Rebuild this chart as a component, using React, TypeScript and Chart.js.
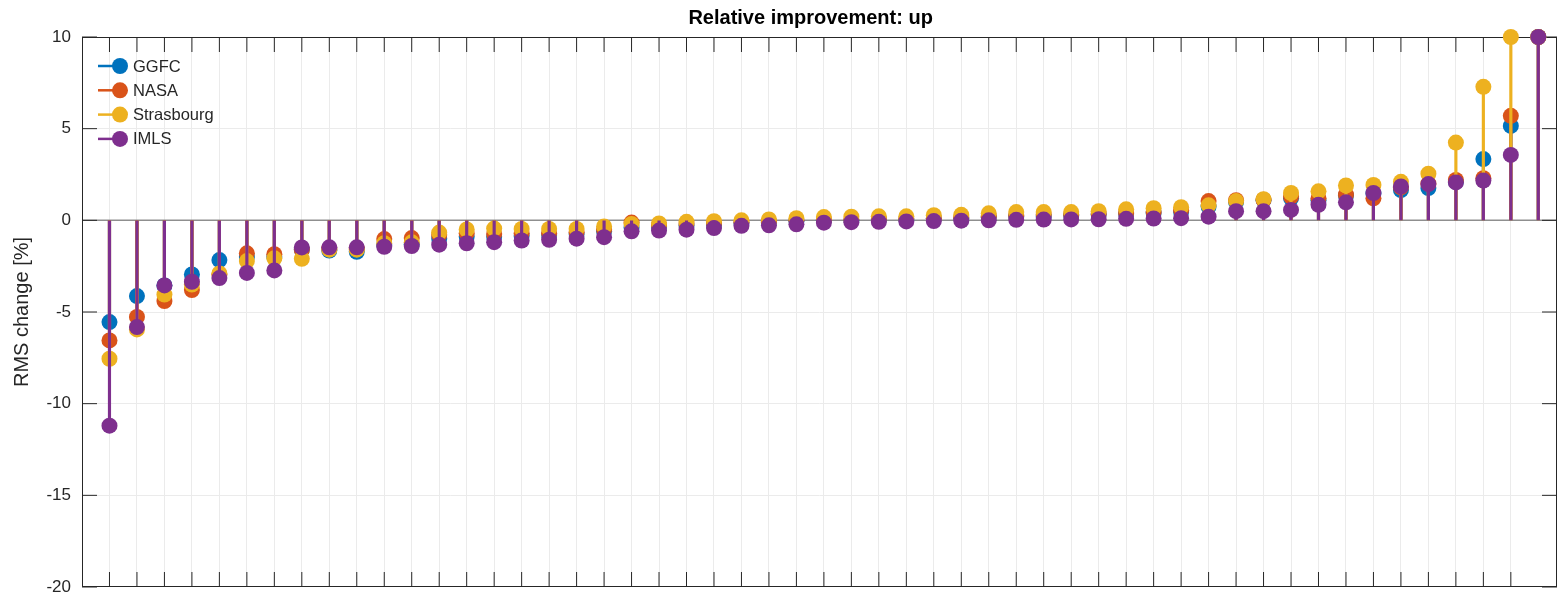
import React, { useEffect, useRef } from "react";
import { Chart, registerables } from "chart.js";

Chart.register(...registerables);

// ---- data ----
const seriesNames = ["GGFC", "NASA", "Strasbourg", "IMLS"];
const seriesColors = ["#0072BD", "#D95319", "#EDB120", "#7E2F8E"];

const GGFC = [
  -5.55, -4.13, -3.55, -2.95, -2.17, -2.0, -2.0, -1.6, -1.65, -1.72, -1.35, -1.3, -1.0,
  -0.9, -0.9, -0.85, -0.8, -0.75, -0.6, -0.4, -0.35, -0.3, -0.25, -0.15, -0.1, -0.05, 0.0,
  0.0, 0.02, 0.05, 0.08, 0.1, 0.15, 0.2, 0.2, 0.25, 0.3, 0.35, 0.4, 0.45,
  0.75, 1.0, 1.1, 1.2, 1.1, 1.35, 1.45, 1.65, 1.76, 2.1, 3.34, 5.15, 10,
];
const NASA = [
  -6.55, -5.27, -4.4, -3.8, -2.95, -1.8, -1.85, -1.6, -1.55, -1.55, -1.02, -0.97, -0.8,
  -0.7, -0.75, -0.7, -0.7, -0.65, -0.5, -0.12, -0.25, -0.2, -0.15, -0.1, -0.05, 0.0, 0.05,
  0.05, 0.07, 0.1, 0.12, 0.15, 0.2, 0.25, 0.3, 0.3, 0.35, 0.4, 0.45, 0.55,
  1.05, 1.1, 1.12, 1.3, 1.2, 1.4, 1.2, 1.8, 2.0, 2.2, 2.3, 5.7, 10,
];
const Strasbourg = [
  -7.55, -5.95, -4.05, -3.5, -2.9, -2.22, -2.07, -2.1, -1.6, -1.6, -1.25, -1.2, -0.67,
  -0.5, -0.45, -0.47, -0.47, -0.47, -0.33, -0.2, -0.17, -0.08, -0.05, 0.0, 0.05, 0.12, 0.18,
  0.2, 0.22, 0.22, 0.28, 0.3, 0.38, 0.45, 0.45, 0.45, 0.5, 0.6, 0.66, 0.72,
  0.82, 1.05, 1.15, 1.49, 1.58, 1.9, 1.93, 2.1, 2.54, 4.24, 7.28, 10, 10,
];
const IMLS = [
  -11.2, -5.82, -3.55, -3.35, -3.15, -2.87, -2.73, -1.48, -1.47, -1.47, -1.44, -1.4, -1.33,
  -1.25, -1.19, -1.1, -1.06, -1.0, -0.92, -0.6, -0.56, -0.51, -0.42, -0.3, -0.27, -0.22, -0.13,
  -0.1, -0.08, -0.06, -0.04, -0.02, 0.0, 0.03, 0.04, 0.05, 0.06, 0.08, 0.1, 0.12,
  0.2, 0.5, 0.5, 0.57, 0.85, 0.98, 1.49, 1.85, 1.98, 2.07, 2.17, 3.57, 10,
];
const seriesValues = [GGFC, NASA, Strasbourg, IMLS];
const stationIndex = GGFC.map((_, i) => i + 1);

const yTickStep = 5;
const yMin = -20;
const yMax = 10;
const xMin = 0;
const xMax = 53.68;

const titleText = "Relative improvement: up";
const yTitle = "RMS change [%]";

const W = 1558;
const H = 597;
const FONT = "'Liberation Sans', Arial, Helvetica, sans-serif";
const AXIS_COLOR = "#262626";
const GRID_COLOR = "#ebebeb";
const TICK_LEN = 15;

const axesPlugin = {
  id: "matlabAxes",
  beforeDatasetsDraw(chart: any) {
    const { ctx, chartArea } = chart;
    const { left, right, top, bottom } = chartArea;
    const xs = chart.scales.x;
    const ys = chart.scales.y;
    ctx.save();
    // stem baseline
    const y0 = ys.getPixelForValue(0);
    ctx.strokeStyle = "#8f8f8f";
    ctx.lineWidth = 1.5;
    ctx.beginPath();
    ctx.moveTo(left, y0);
    ctx.lineTo(right, y0);
    ctx.stroke();
    // box
    ctx.strokeStyle = AXIS_COLOR;
    ctx.lineWidth = 1;
    ctx.strokeRect(left + 0.5, top + 0.5, right - left - 1, bottom - top - 1);
    // inward ticks
    ctx.beginPath();
    xs.ticks.forEach((t: any) => {
      if (Number.isInteger(t.value) && t.value > xMin && t.value < xMax) {
        const px = xs.getPixelForValue(t.value);
        ctx.moveTo(px, bottom);
        ctx.lineTo(px, bottom - TICK_LEN);
        ctx.moveTo(px, top);
        ctx.lineTo(px, top + TICK_LEN);
      }
    });
    ys.ticks.forEach((t: any) => {
      const py = ys.getPixelForValue(t.value);
      ctx.moveTo(left, py);
      ctx.lineTo(left + TICK_LEN, py);
      ctx.moveTo(right, py);
      ctx.lineTo(right - TICK_LEN, py);
    });
    ctx.stroke();
    ctx.restore();
  },
  afterDraw(chart: any) {
    const { ctx, chartArea } = chart;
    ctx.save();
    // title
    ctx.fillStyle = "#000000";
    ctx.font = `bold 20px ${FONT}`;
    ctx.textAlign = "center";
    ctx.textBaseline = "middle";
    ctx.fillText(titleText, chartArea.left + (chartArea.right - chartArea.left) * 0.494, 18);
    // legend
    const lx = chartArea.left + 16;
    const ly = chartArea.top + 29;
    const rowH = 24.3;
    seriesNames.forEach((name, i) => {
      const cy = ly + i * rowH;
      ctx.strokeStyle = seriesColors[i];
      ctx.lineWidth = 2.5;
      ctx.beginPath();
      ctx.moveTo(lx, cy);
      ctx.lineTo(lx + 23, cy);
      ctx.stroke();
      ctx.fillStyle = seriesColors[i];
      ctx.beginPath();
      ctx.arc(lx + 22, cy, 8, 0, Math.PI * 2);
      ctx.fill();
      ctx.fillStyle = AXIS_COLOR;
      ctx.font = `16.5px ${FONT}`;
      ctx.textAlign = "left";
      ctx.textBaseline = "middle";
      ctx.fillText(name, lx + 35, cy + 1);
    });
    ctx.restore();
  },
};

export default function App() {
  const canvasRef = useRef<HTMLCanvasElement | null>(null);

  useEffect(() => {
    const canvas = canvasRef.current;
    if (!canvas) return;

    const datasets: any[] = [];
    seriesValues.forEach((vals, s) => {
      const pts = vals.map((v, i) => ({ x: stationIndex[i], y: v }));
      const base = (seriesValues.length - s) * 2;
      datasets.push({
        type: "bar",
        label: seriesNames[s] + " stem",
        data: pts,
        backgroundColor: seriesColors[s],
        borderWidth: 0,
        barThickness: 2.5,
        grouped: false,
        order: base,
      });
      datasets.push({
        type: "scatter",
        label: seriesNames[s],
        data: pts,
        backgroundColor: seriesColors[s],
        borderColor: seriesColors[s],
        borderWidth: 0,
        pointRadius: 8,
        pointHoverRadius: 8,
        showLine: false,
        clip: false,
        order: base - 1,
      });
    });

    const chart = new Chart(canvas, {
      type: "scatter",
      data: { datasets },
      options: {
        animation: false,
        responsive: false,
        devicePixelRatio: 1,
        events: [],
        layout: { autoPadding: false, padding: { top: 37, right: 1, bottom: 10, left: 0 } },
        plugins: {
          legend: { display: false },
          tooltip: { enabled: false },
          title: { display: false },
        },
        scales: {
          x: {
            type: "linear",
            min: xMin,
            max: xMax,
            offset: false,
            afterFit: (s: any) => {
              s.height = 0;
              s.paddingLeft = 0;
              s.paddingRight = 0;
            },
            ticks: { display: false, stepSize: 1, autoSkip: false },
            grid: {
              offset: false,
              drawTicks: false,
              lineWidth: 1,
              color: (c: any) =>
                c.tick && Number.isInteger(c.tick.value) && c.tick.value > xMin && c.tick.value < xMax
                  ? GRID_COLOR
                  : "rgba(0,0,0,0)",
            },
            border: { display: false },
          },
          y: {
            type: "linear",
            min: yMin,
            max: yMax,
            afterFit: (s: any) => {
              s.width = 82;
              s.paddingTop = 0;
              s.paddingBottom = 0;
            },
            ticks: {
              stepSize: yTickStep,
              color: AXIS_COLOR,
              padding: 11,
              font: { family: FONT, size: 17 },
            },
            grid: {
              drawTicks: false,
              lineWidth: 1,
              color: (c: any) =>
                c.tick && c.tick.value > yMin && c.tick.value < yMax ? GRID_COLOR : "rgba(0,0,0,0)",
            },
            border: { display: false },
            title: {
              display: true,
              text: yTitle,
              color: AXIS_COLOR,
              font: { family: FONT, size: 20 },
              padding: { top: 10, bottom: 0 },
            },
          },
        },
      } as any,
      plugins: [axesPlugin],
    });

    return () => chart.destroy();
  }, []);

  return (
    <canvas
      ref={canvasRef}
      width={W}
      height={H}
      style={{ position: "fixed", left: 0, top: 0, width: W + "px", height: H + "px", background: "#ffffff" }}
    />
  );
}
